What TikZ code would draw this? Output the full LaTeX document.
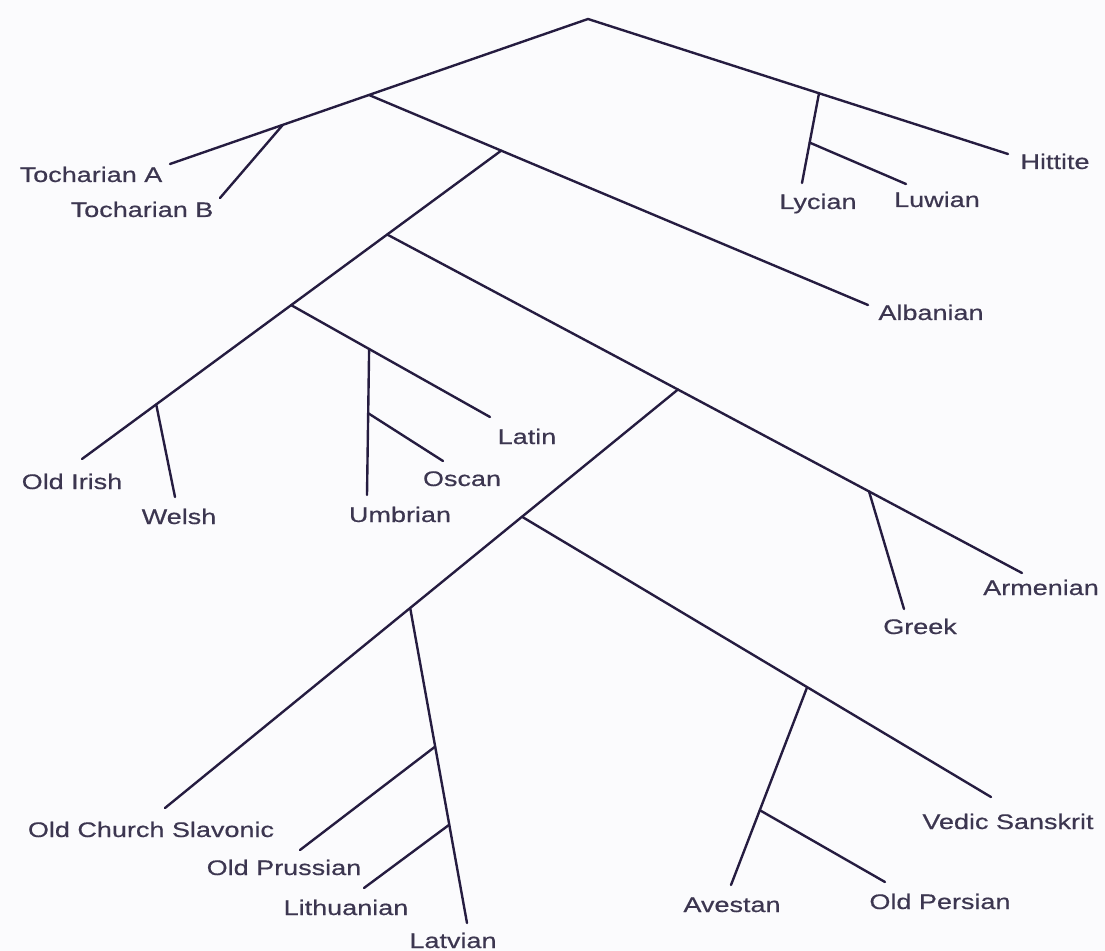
\documentclass[tikz,border=0pt]{standalone}
\usepackage{fontspec}
\setmainfont{Liberation Sans}
\newfontfamily\langfont{Liberation Sans}[FakeStretch=1.28, FakeBold=0.5]
\usetikzlibrary{calc}
\definecolor{bgc}{HTML}{FBFBFD}
\definecolor{linec}{HTML}{251C40}
\definecolor{txt}{HTML}{3C3650}

\begin{document}
\begin{tikzpicture}[
  x=0.025cm, y=-0.025cm,
  lang/.style={font={\langfont\fontsize{15}{18}\selectfont}, text=txt,
     inner sep=0pt, anchor=base},
  branch/.style={draw=linec, line width=1.7pt, line cap=round, line join=round},
]
\fill[bgc] (0,0) rectangle (1105,951);
\useasboundingbox (0,0) rectangle (1105,951);
% --- leaf ends ---
\coordinate (root)  at (588,19);
\coordinate (tochAe) at (170,164);
\coordinate (tochBe) at (220,198);
\coordinate (hitE)  at (1008,154);
\coordinate (lycE)  at (802,183);
\coordinate (luwE)  at (906,184);
\coordinate (albE)  at (868,305);
\coordinate (irE)   at (82,459);
\coordinate (welE)  at (175,497);
\coordinate (latE)  at (490,417);
\coordinate (umbE)  at (367,495);
\coordinate (oscE)  at (443,461);
\coordinate (armE)  at (1022,573);
\coordinate (grkE)  at (904,609);
\coordinate (ocsE)  at (165,808);
\coordinate (latvE) at (467,923);
\coordinate (oprE)  at (300,850);
\coordinate (litE)  at (364,888);
\coordinate (vedE)  at (991,797);
\coordinate (aveE)  at (731,885);
\coordinate (operE) at (885,882);
% --- junctions (on their parent branch) ---
\coordinate (nuc)  at ($(root)!0.524!(tochAe)$);
\coordinate (toch) at ($(root)!0.730!(tochAe)$);
\coordinate (anat) at ($(root)!0.550!(hitE)$);
\coordinate (luw)  at ($(anat)!0.550!(lycE)$);
\coordinate (alb)  at ($(nuc)!0.265!(albE)$);
\coordinate (ga)   at ($(alb)!0.272!(irE)$);
\coordinate (itc)  at ($(alb)!0.501!(irE)$);
\coordinate (cel)  at ($(alb)!0.823!(irE)$);
\coordinate (ita)  at ($(itc)!0.392!(latE)$);
\coordinate (osc)  at ($(ita)!0.440!(umbE)$);
\coordinate (bsi)  at ($(ga)!0.458!(armE)$);
\coordinate (grk)  at ($(ga)!0.759!(armE)$);
\coordinate (ii)   at ($(bsi)!0.304!(ocsE)$);
\coordinate (bsl)  at ($(bsi)!0.522!(ocsE)$);
\coordinate (opr)  at ($(bsl)!0.440!(latvE)$);
\coordinate (lit)  at ($(bsl)!0.688!(latvE)$);
\coordinate (iran) at ($(ii)!0.608!(vedE)$);
\coordinate (per)  at ($(iran)!0.622!(aveE)$);
% --- branches ---
\draw[branch] (tochAe) -- (root) -- (hitE);
\draw[branch] (toch) -- (tochBe);
\draw[branch] (anat) -- (lycE);
\draw[branch] (luw) -- (luwE);
\draw[branch] (nuc) -- (albE);
\draw[branch] (alb) -- (irE);
\draw[branch] (cel) -- (welE);
\draw[branch] (ga) -- (armE);
\draw[branch] (itc) -- (latE);
\draw[branch] (ita) -- (umbE);
\draw[branch] (osc) -- (oscE);
\draw[branch] (grk) -- (grkE);
\draw[branch] (bsi) -- (ocsE);
\draw[branch] (bsl) -- (latvE);
\draw[branch] (opr) -- (oprE);
\draw[branch] (lit) -- (litE);
\draw[branch] (ii) -- (vedE);
\draw[branch] (iran) -- (aveE);
\draw[branch] (per) -- (operE);
% --- labels ---
\node[lang] (tochA)       at (91,182)   {Tocharian A};
\node[lang] (tochB)       at (142,217)  {Tocharian B};
\node[lang] (lycian)      at (818,209)  {Lycian};
\node[lang] (luwian)      at (937,207)  {Luwian};
\node[lang] (hittite)     at (1055,169) {Hittite};
\node[lang] (albanian)    at (931,320)  {Albanian};
\node[lang] (latin)       at (527,444)  {Latin};
\node[lang] (oscan)       at (462,486)  {Oscan};
\node[lang] (oldirish)    at (72,489)   {Old Irish};
\node[lang] (welsh)       at (179,524)  {Welsh};
\node[lang] (umbrian)     at (400,522)  {Umbrian};
\node[lang] (greek)       at (920,634)  {Greek};
\node[lang] (armenian)    at (1041,595) {Armenian};
\node[lang] (ocs)         at (151,837)  {Old Church Slavonic};
\node[lang] (oldprussian) at (284,875)  {Old Prussian};
\node[lang] (lithuanian)  at (346,915)  {Lithuanian};
\node[lang] (latvian)     at (453,948)  {Latvian};
\node[lang] (vedic)       at (1008,829) {Vedic Sanskrit};
\node[lang] (avestan)     at (732,912)  {Avestan};
\node[lang] (oldpersian)  at (940,909)  {Old Persian};
\end{tikzpicture}
\end{document}
